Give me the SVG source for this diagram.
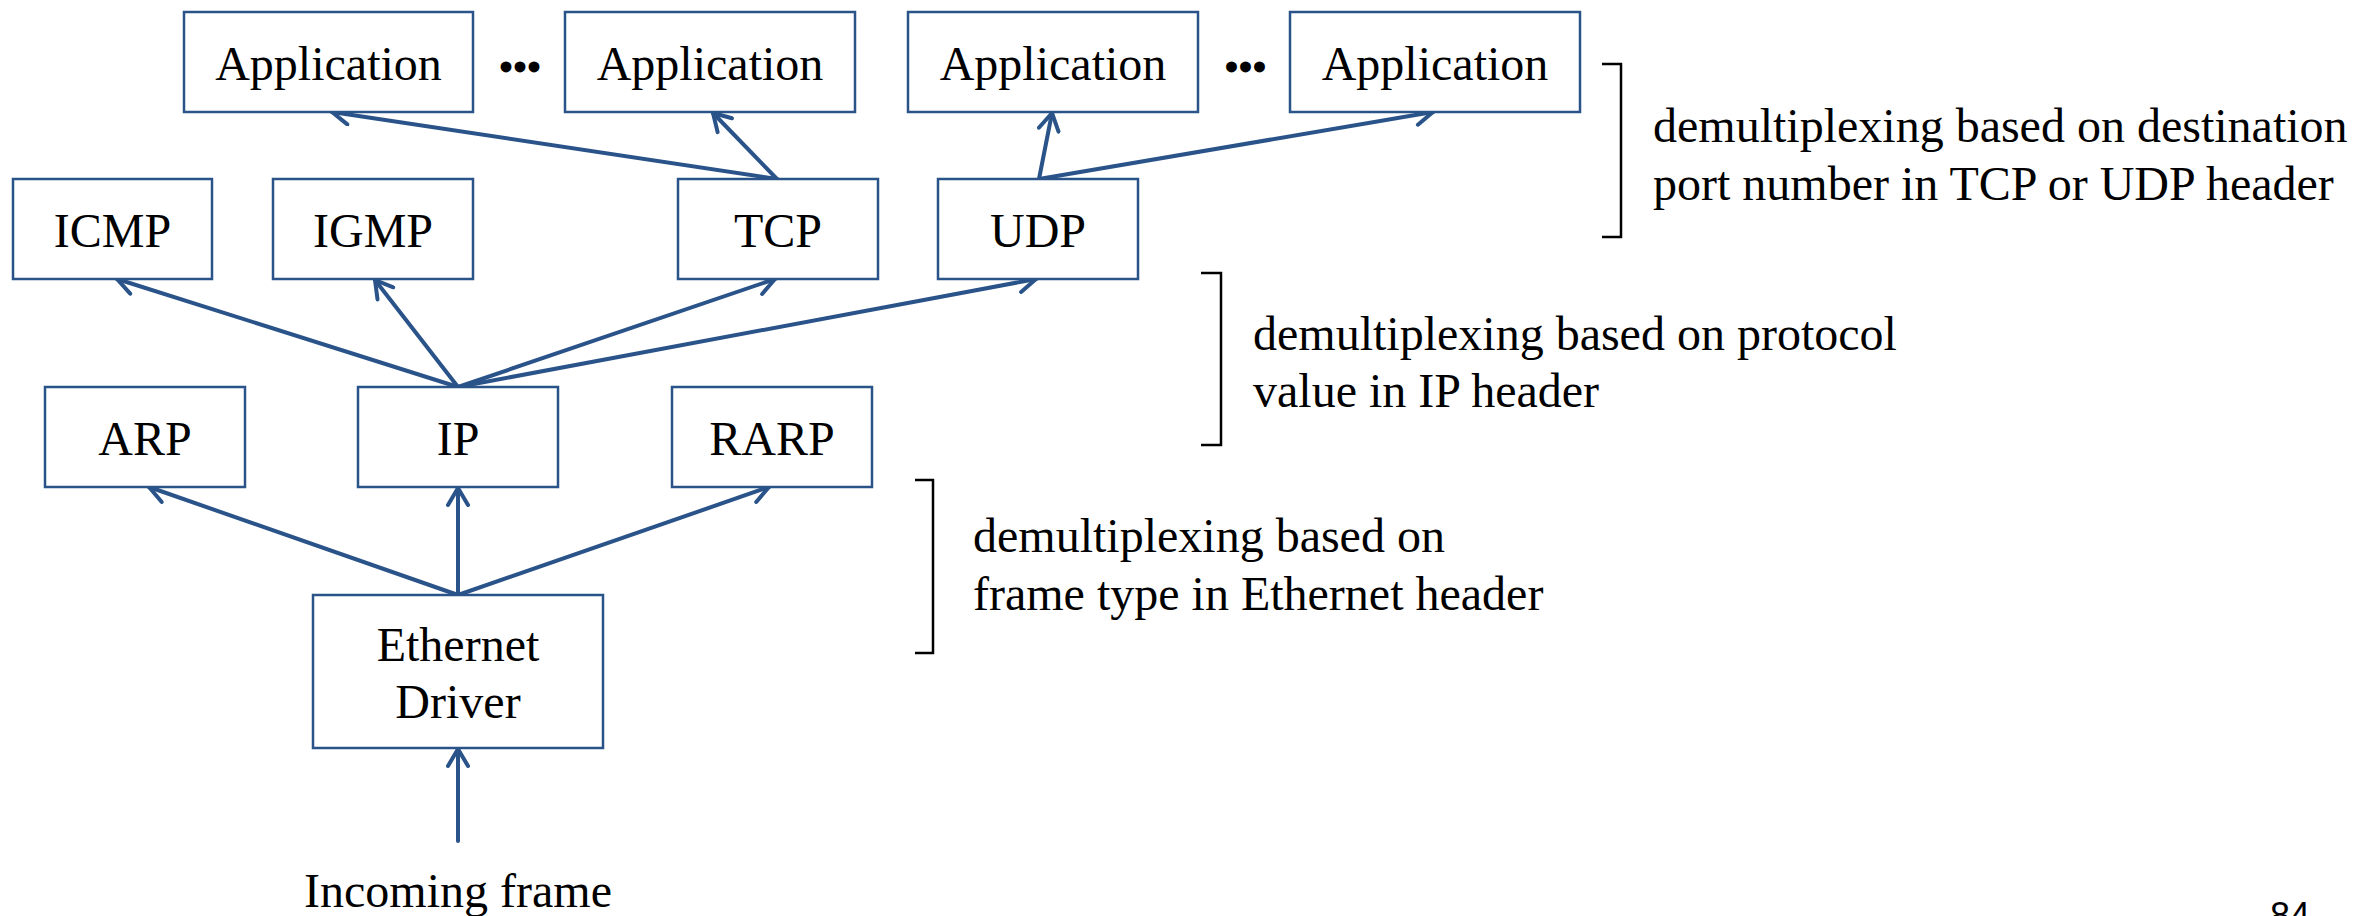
<svg xmlns="http://www.w3.org/2000/svg" width="2359" height="916" viewBox="0 0 2359 916">
<defs>
<style>
.box{fill:#ffffff;stroke:#2a5389;stroke-width:2.5}
.lbl{font-family:"Liberation Serif","Times New Roman",serif;font-size:48px;fill:#000;text-anchor:middle}
.note{font-family:"Liberation Serif","Times New Roman",serif;font-size:48px;fill:#000}
.dots{font-family:"Liberation Serif","Times New Roman",serif;font-size:40px;font-weight:bold;fill:#000;text-anchor:middle}
.arr{stroke:#2a5389;stroke-width:4;fill:none;stroke-linecap:round;marker-end:url(#ah)}
.brk{stroke:#000;stroke-width:2.5;fill:none}
</style>
<marker id="ah" markerUnits="userSpaceOnUse" viewBox="0 0 24 24" markerWidth="24" markerHeight="24" refX="20" refY="12" orient="auto">
<path d="M3,2 L20,12 L3,22" fill="none" stroke="#2a5389" stroke-width="4" stroke-linecap="round" stroke-linejoin="round"/>
</marker>
</defs>
<rect width="2359" height="916" fill="#ffffff"/>

<g id="connectors">
<line class="arr" x1="777" y1="179" x2="332" y2="112"/>
<line class="arr" x1="777" y1="179" x2="713" y2="113"/>
<line class="arr" x1="1039" y1="179" x2="1052" y2="113"/>
<line class="arr" x1="1039" y1="179" x2="1433" y2="112"/>
<line class="arr" x1="458" y1="387" x2="117" y2="279"/>
<line class="arr" x1="458" y1="387" x2="375" y2="280"/>
<line class="arr" x1="458" y1="387" x2="775" y2="279"/>
<line class="arr" x1="458" y1="387" x2="1036" y2="279"/>
<line class="arr" x1="458" y1="595" x2="149" y2="487"/>
<line class="arr" x1="458" y1="595" x2="458" y2="488"/>
<line class="arr" x1="458" y1="595" x2="769" y2="487"/>
<line class="arr" x1="458" y1="841" x2="458" y2="749"/>
</g>

<g id="app1"><rect class="box" x="184" y="12" width="289" height="100"/><text class="lbl" x="328.5" y="80">Application</text></g>
<g id="dots1"><text class="dots" x="520" y="81">•••</text></g>
<g id="app2"><rect class="box" x="565" y="12" width="290" height="100"/><text class="lbl" x="710" y="80">Application</text></g>
<g id="app3"><rect class="box" x="908" y="12" width="290" height="100"/><text class="lbl" x="1053" y="80">Application</text></g>
<g id="dots2"><text class="dots" x="1245.5" y="81">•••</text></g>
<g id="app4"><rect class="box" x="1290" y="12" width="290" height="100"/><text class="lbl" x="1435" y="80">Application</text></g>

<g id="icmp"><rect class="box" x="13" y="179" width="199" height="100"/><text class="lbl" x="112.5" y="247">ICMP</text></g>
<g id="igmp"><rect class="box" x="273" y="179" width="200" height="100"/><text class="lbl" x="373" y="247">IGMP</text></g>
<g id="tcp"><rect class="box" x="678" y="179" width="200" height="100"/><text class="lbl" x="778" y="247">TCP</text></g>
<g id="udp"><rect class="box" x="938" y="179" width="200" height="100"/><text class="lbl" x="1038" y="247">UDP</text></g>

<g id="arp"><rect class="box" x="45" y="387" width="200" height="100"/><text class="lbl" x="145" y="455">ARP</text></g>
<g id="ip"><rect class="box" x="358" y="387" width="200" height="100"/><text class="lbl" x="458" y="455">IP</text></g>
<g id="rarp"><rect class="box" x="672" y="387" width="200" height="100"/><text class="lbl" x="772" y="455">RARP</text></g>

<g id="ethernet"><rect class="box" x="313" y="595" width="290" height="153"/><text class="lbl" x="458" y="661">Ethernet</text><text class="lbl" x="458" y="718">Driver</text></g>

<g id="incoming"><text class="lbl" x="458" y="907">Incoming frame</text></g>

<g id="note-ports">
<path class="brk" d="M1602,64 H1621 V237 H1602"/>
<text class="note" x="1653" y="142">demultiplexing based on destination</text>
<text class="note" x="1653" y="200">port number in TCP or UDP header</text>
</g>
<g id="note-ip">
<path class="brk" d="M1201,273 H1221 V445 H1201"/>
<text class="note" x="1253" y="350">demultiplexing based on protocol</text>
<text class="note" x="1253" y="407">value in IP header</text>
</g>
<g id="note-eth">
<path class="brk" d="M915,480 H933 V653 H915"/>
<text class="note" x="973" y="552">demultiplexing based on</text>
<text class="note" x="973" y="610">frame type in Ethernet header</text>
</g>

<text x="2270" y="928" font-family="Liberation Sans, Arial, sans-serif" font-size="36" fill="#000">84</text>
</svg>
